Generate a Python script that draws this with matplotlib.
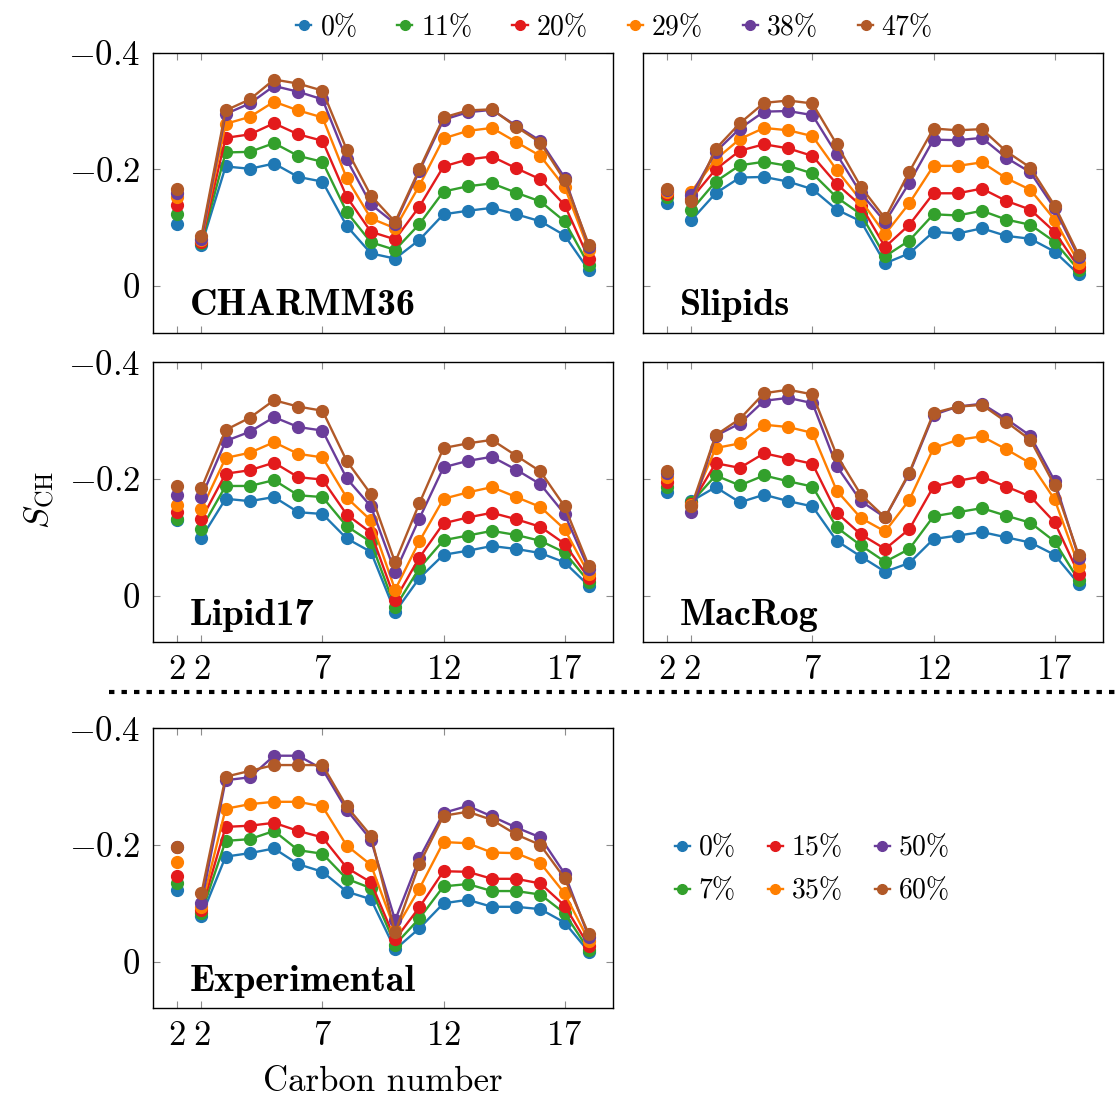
import matplotlib
matplotlib.use("Agg")
import matplotlib.pyplot as plt
from matplotlib.legend_handler import HandlerLine2D
from matplotlib.lines import Line2D

plt.rcParams["mathtext.fontset"] = "cm"
plt.rcParams["font.family"] = "serif"
plt.rcParams["font.serif"] = ["cmr10", "DejaVu Serif"]

# ---------------------------------------------------------------------------
# Data: order parameters S_CH, first value = sn-1 C2, then carbons 2..18
# ---------------------------------------------------------------------------
carbon = list(range(1, 19))
xtick_pos = [1, 2, 7, 12, 17]
xtick_labels = ["2", "2", "7", "12", "17"]
ytick_pos = [-0.4, -0.2, 0.0]
ytick_labels = [r"$-0.4$", r"$-0.2$", r"$0$"]

sim_labels = ["0%", "11%", "20%", "29%", "38%", "47%"]
exp_labels = ["0%", "7%", "15%", "35%", "50%", "60%"]
colors = ["#1f78b4", "#33a02c", "#e31a1c", "#ff7f00", "#6a3d9a", "#b15928"]

charmm36 = [
    [-0.106, -0.070, -0.205, -0.201, -0.210, -0.187, -0.179, -0.103, -0.056, -0.047, -0.079, -0.123, -0.129, -0.134, -0.123, -0.111, -0.087, -0.027],
    [-0.123, -0.073, -0.229, -0.230, -0.245, -0.223, -0.213, -0.127, -0.075, -0.062, -0.106, -0.162, -0.171, -0.176, -0.160, -0.145, -0.111, -0.036],
    [-0.139, -0.076, -0.254, -0.260, -0.279, -0.260, -0.249, -0.153, -0.093, -0.080, -0.136, -0.205, -0.217, -0.222, -0.202, -0.183, -0.139, -0.047],
    [-0.153, -0.079, -0.278, -0.290, -0.316, -0.301, -0.289, -0.185, -0.116, -0.099, -0.172, -0.253, -0.266, -0.271, -0.247, -0.223, -0.170, -0.062],
    [-0.159, -0.080, -0.295, -0.313, -0.343, -0.333, -0.320, -0.217, -0.140, -0.107, -0.197, -0.285, -0.298, -0.302, -0.275, -0.249, -0.186, -0.067],
    [-0.166, -0.086, -0.301, -0.320, -0.354, -0.347, -0.335, -0.234, -0.155, -0.110, -0.200, -0.289, -0.301, -0.303, -0.273, -0.246, -0.181, -0.071],
]

slipids = [
    [-0.143, -0.113, -0.159, -0.186, -0.187, -0.179, -0.166, -0.131, -0.111, -0.039, -0.056, -0.093, -0.090, -0.099, -0.086, -0.081, -0.059, -0.020],
    [-0.153, -0.130, -0.179, -0.207, -0.213, -0.206, -0.193, -0.152, -0.123, -0.051, -0.078, -0.123, -0.121, -0.129, -0.114, -0.105, -0.076, -0.027],
    [-0.157, -0.150, -0.200, -0.232, -0.243, -0.236, -0.223, -0.175, -0.138, -0.067, -0.105, -0.159, -0.159, -0.167, -0.146, -0.131, -0.093, -0.032],
    [-0.162, -0.162, -0.217, -0.252, -0.271, -0.267, -0.257, -0.199, -0.147, -0.089, -0.142, -0.206, -0.206, -0.212, -0.185, -0.165, -0.114, -0.040],
    [-0.165, -0.156, -0.230, -0.270, -0.299, -0.300, -0.293, -0.226, -0.159, -0.110, -0.177, -0.251, -0.250, -0.254, -0.220, -0.195, -0.133, -0.049],
    [-0.167, -0.145, -0.235, -0.279, -0.314, -0.318, -0.313, -0.243, -0.170, -0.116, -0.196, -0.270, -0.267, -0.269, -0.231, -0.203, -0.138, -0.053],
]

lipid17 = [
    [-0.130, -0.099, -0.166, -0.162, -0.169, -0.143, -0.140, -0.098, -0.075, 0.028, -0.030, -0.070, -0.077, -0.085, -0.080, -0.073, -0.057, -0.017],
    [-0.132, -0.115, -0.188, -0.188, -0.198, -0.172, -0.169, -0.119, -0.092, 0.020, -0.047, -0.095, -0.103, -0.111, -0.104, -0.094, -0.074, -0.024],
    [-0.144, -0.131, -0.209, -0.215, -0.228, -0.203, -0.199, -0.139, -0.108, 0.007, -0.065, -0.124, -0.134, -0.142, -0.131, -0.118, -0.089, -0.030],
    [-0.156, -0.148, -0.236, -0.245, -0.263, -0.243, -0.237, -0.168, -0.129, -0.010, -0.093, -0.166, -0.177, -0.186, -0.169, -0.152, -0.114, -0.037],
    [-0.173, -0.169, -0.265, -0.281, -0.306, -0.289, -0.283, -0.201, -0.153, -0.040, -0.132, -0.220, -0.231, -0.238, -0.216, -0.191, -0.140, -0.045],
    [-0.188, -0.184, -0.284, -0.305, -0.335, -0.324, -0.317, -0.231, -0.174, -0.057, -0.158, -0.253, -0.261, -0.267, -0.240, -0.213, -0.153, -0.051],
]

macrog = [
    [-0.178, -0.162, -0.186, -0.160, -0.173, -0.162, -0.153, -0.094, -0.067, -0.041, -0.056, -0.097, -0.103, -0.109, -0.100, -0.091, -0.070, -0.020],
    [-0.186, -0.160, -0.206, -0.189, -0.206, -0.196, -0.187, -0.117, -0.086, -0.058, -0.080, -0.136, -0.143, -0.150, -0.137, -0.125, -0.093, -0.026],
    [-0.194, -0.157, -0.227, -0.219, -0.244, -0.235, -0.226, -0.142, -0.105, -0.080, -0.114, -0.187, -0.197, -0.204, -0.187, -0.170, -0.126, -0.037],
    [-0.203, -0.155, -0.253, -0.261, -0.293, -0.289, -0.279, -0.180, -0.133, -0.110, -0.164, -0.253, -0.267, -0.273, -0.251, -0.227, -0.165, -0.051],
    [-0.210, -0.143, -0.274, -0.295, -0.334, -0.339, -0.330, -0.222, -0.162, -0.134, -0.209, -0.310, -0.324, -0.329, -0.303, -0.274, -0.197, -0.065],
    [-0.214, -0.153, -0.275, -0.303, -0.347, -0.353, -0.345, -0.241, -0.173, -0.134, -0.211, -0.313, -0.324, -0.327, -0.298, -0.267, -0.189, -0.069],
]

experimental = [
    [-0.122, -0.078, -0.180, -0.186, -0.194, -0.167, -0.154, -0.120, -0.107, -0.021, -0.057, -0.100, -0.106, -0.094, -0.094, -0.090, -0.067, -0.017],
    [-0.134, -0.083, -0.207, -0.210, -0.224, -0.191, -0.185, -0.142, -0.126, -0.029, -0.074, -0.129, -0.133, -0.121, -0.121, -0.115, -0.083, -0.020],
    [-0.147, -0.089, -0.231, -0.233, -0.238, -0.224, -0.213, -0.161, -0.136, -0.038, -0.093, -0.155, -0.154, -0.142, -0.142, -0.134, -0.096, -0.027],
    [-0.170, -0.094, -0.262, -0.270, -0.274, -0.274, -0.266, -0.199, -0.166, -0.054, -0.125, -0.205, -0.203, -0.187, -0.186, -0.169, -0.117, -0.036],
    [-0.197, -0.101, -0.311, -0.316, -0.353, -0.353, -0.330, -0.260, -0.209, -0.071, -0.177, -0.255, -0.267, -0.249, -0.230, -0.213, -0.151, -0.042],
    [-0.197, -0.117, -0.317, -0.327, -0.337, -0.337, -0.337, -0.266, -0.216, -0.050, -0.167, -0.250, -0.257, -0.243, -0.218, -0.200, -0.143, -0.047],
]

FS = 25
LEG_FS = 20


class DotAtStart(HandlerLine2D):
    """Legend entry drawn as a dot followed by a short line (pgfplots style)."""
    def get_xdata(self, legend, xdescent, ydescent, width, height, fontsize):
        xdata, _ = super().get_xdata(legend, xdescent, ydescent, width, height, fontsize)
        return xdata, xdata[:1]


def draw_panel(ax, vals, name, show_x, show_y):
    for v, c in zip(vals, colors):
        ax.plot(carbon[1:], v[1:], "-o", color=c, lw=1.7, ms=8.5, clip_on=False)
        ax.plot(carbon[:1], v[:1], "o", color=c, ms=8.5, clip_on=False)
    ax.set_xlim(0, 19)
    ax.set_ylim(0.08, -0.4)
    ax.set_xticks(xtick_pos)
    ax.set_yticks(ytick_pos)
    ax.set_xticklabels([f"${t}$" for t in xtick_labels] if show_x else [])
    ax.set_yticklabels(ytick_labels if show_y else [])
    ax.tick_params(direction="in", length=5, width=0.8, color="0.55",
                   top=True, right=True, labelsize=FS, pad=9)
    for sp in ax.spines.values():
        sp.set_linewidth(1.0)
    # panel name in Computer Modern bold
    ax.text(0.08, 0.062, name, transform=ax.transAxes, family="cmb10",
            fontsize=27.5, va="baseline", ha="left")


W, H = 1117, 1098
fig = plt.figure(figsize=(W / 100, H / 100), dpi=100)


def add_axes(left_px, top_px):
    return fig.add_axes([left_px / W, 1 - (top_px + 280) / H, 460 / W, 280 / H])


ax1 = add_axes(153, 52.7)
ax2 = add_axes(643, 52.7)
ax3 = add_axes(153, 362.3)
ax4 = add_axes(643, 362.3)
ax5 = add_axes(153, 728.3)

draw_panel(ax1, charmm36, "CHARMM36", False, True)
draw_panel(ax2, slipids, "Slipids", False, False)
draw_panel(ax3, lipid17, "Lipid17", True, True)
draw_panel(ax4, macrog, "MacRog", True, False)
draw_panel(ax5, experimental, "Experimental", True, True)


def make_handles(labels):
    return [Line2D([], [], color=c, lw=1.7, marker="o", ms=7, label=r"$%s\%%$" % l[:-1])
            for c, l in zip(colors, labels)]


fig.legend(handles=make_handles(sim_labels), loc="center", ncol=6,
           bbox_to_anchor=(0.550, 1 - 27 / H), frameon=False, fontsize=LEG_FS,
           handlelength=0.55, handletextpad=0.3, columnspacing=1.45,
           handler_map={Line2D: DotAtStart()})
fig.legend(handles=make_handles(exp_labels), loc="center", ncol=3,
           bbox_to_anchor=(0.727, 1 - 869 / H), frameon=False, fontsize=LEG_FS,
           handlelength=0.55, handletextpad=0.3, columnspacing=1.15, labelspacing=0.55,
           handler_map={Line2D: DotAtStart()})

# dashed separator between simulations and experiment
fig.add_artist(Line2D([109 / W, 1.0], [1 - 692 / H, 1 - 692 / H], color="black",
                      lw=3.0, ls=(0, (1.3, 1.7)), dash_capstyle="butt",
                      transform=fig.transFigure))

fig.text(40 / W, 1 - 500 / H, r"$S_{\mathrm{CH}}$", rotation=90,
         fontsize=FS, ha="center", va="center")
fig.text(383 / W, 1 - 1082 / H, "Carbon number", fontsize=FS, ha="center", va="center")

fig.savefig("out.png", dpi=100)
